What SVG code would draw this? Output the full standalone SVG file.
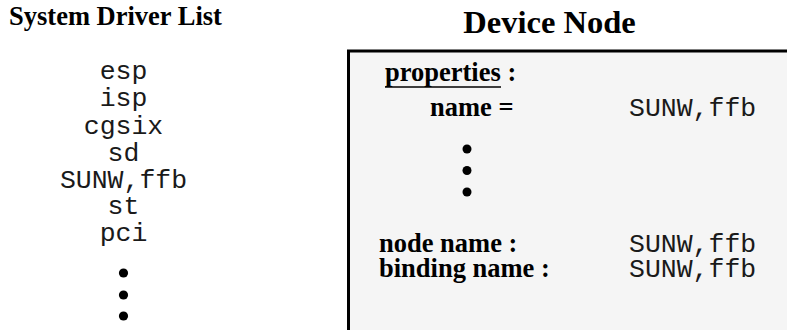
<svg xmlns="http://www.w3.org/2000/svg" width="787" height="330" viewBox="0 0 787 330">
<style>
.title{font-family:"Liberation Serif","Times New Roman",serif;font-weight:bold;fill:#000}
.lbl{font-family:"Liberation Serif","Times New Roman",serif;font-weight:bold;font-size:26.5px;fill:#000}
.mono{font-family:"Liberation Mono","Courier New",monospace;font-size:26.5px;fill:#1a1a1a}
.dot{fill:#000}
</style>
<rect width="787" height="330" fill="#fff"/>
<g id="driver-list">
<text class="title" x="9" y="24.5" font-size="26.5">System Driver List</text>
<g text-anchor="middle">
<text class="mono" x="123.5" y="79">esp</text>
<text class="mono" x="123.5" y="106">isp</text>
<text class="mono" x="123.5" y="133.5">cgsix</text>
<text class="mono" x="123.5" y="160.5">sd</text>
<text class="mono" x="123.5" y="187.5">SUNW,ffb</text>
<text class="mono" x="123.5" y="214">st</text>
<text class="mono" x="123.5" y="240.5">pci</text>
</g>
<circle class="dot" cx="123.5" cy="273" r="4.6"/>
<circle class="dot" cx="123.5" cy="295" r="4.6"/>
<circle class="dot" cx="123.5" cy="316" r="4.6"/>
</g>
<g id="device-node">
<text class="title" x="549.5" y="33" font-size="32.5" text-anchor="middle">Device Node</text>
<rect x="348.5" y="51" width="500" height="320" fill="#f5f5f5" stroke="#000" stroke-width="3"/>
<text class="lbl" x="385" y="81">properties :</text>
<line x1="385" y1="87" x2="501" y2="87" stroke="#000" stroke-width="1.6"/>
<text class="lbl" x="430" y="116">name =</text>
<text class="mono" x="629" y="116">SUNW,ffb</text>
<circle class="dot" cx="467" cy="149" r="4.5"/>
<circle class="dot" cx="467" cy="170.5" r="4.5"/>
<circle class="dot" cx="467" cy="192" r="4.5"/>
<text class="lbl" x="379" y="251.5">node name :</text>
<text class="mono" x="629" y="251.5">SUNW,ffb</text>
<text class="lbl" x="379" y="277">binding name :</text>
<text class="mono" x="629" y="277">SUNW,ffb</text>
</g>
</svg>
